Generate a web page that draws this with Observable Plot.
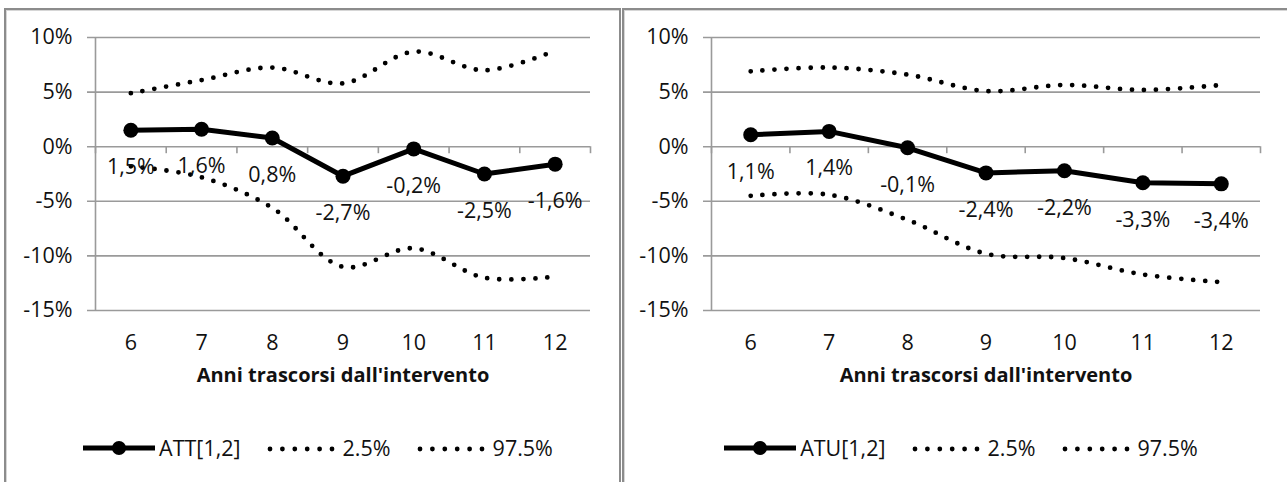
<!DOCTYPE html>
<html>
<head>
<meta charset="utf-8">
<script src="https://cdn.jsdelivr.net/npm/d3@7"></script>
<script src="https://cdn.jsdelivr.net/npm/@observablehq/plot@0.6"></script>
<style>
  body { margin: 0; background: #fff; font-family: "Open Sans", sans-serif; color: #111; }
  #page { position: relative; width: 1287px; height: 482px; overflow: hidden; }
  .chart { position: absolute; top: 0; }
  .frame { position: absolute; top: 8px; height: 500px; box-sizing: border-box;
           border: 2px solid #8c8c8c; box-shadow: inset 1px 1px 0 #d6d6d6; background: transparent; }
  .legend { position: absolute; top: 433px; display: flex; justify-content: center; align-items: center;
            font-size: 21.5px; white-space: nowrap; }
  .legend .item { display: flex; align-items: center; margin: 0 13px; }
  .legend svg { display: block; margin-right: 4px; }
  .legend svg.band { margin-right: 8px; }
</style>
</head>
<body>
<div id="page"></div>
<script>
// Years since the intervention
const years = [6, 7, 8, 9, 10, 11, 12];
const yTicks = [-15, -10, -5, 0, 5, 10];
const axisTitle = "Anni trascorsi dall'intervento";
const bandNames = ["2.5%", "97.5%"];

// ATT[1,2]: estimate with 2.5% and 97.5% bounds (percent)
const attEstimate = [1.5, 1.6, 0.8, -2.7, -0.2, -2.5, -1.6];
const attLow = [-1.8, -2.8, -5.6, -11.0, -9.3, -12.0, -11.9];
const attHigh = [4.9, 6.1, 7.25, 5.8, 8.7, 7.0, 8.8];

// ATU[1,2]: estimate with 2.5% and 97.5% bounds (percent)
const atuEstimate = [1.1, 1.4, -0.1, -2.4, -2.2, -3.3, -3.4];
const atuLow = [-4.5, -4.4, -6.7, -9.8, -10.2, -11.7, -12.4];
const atuHigh = [6.9, 7.25, 6.6, 5.1, 5.65, 5.2, 5.65];

const pct = v => v.toFixed(1).replace(".", ",") + "%";
const grid = "#9a9a9a";
const fs = 21.5;
const dotted = {stroke: "black", strokeWidth: 4.8, strokeDasharray: "0 12", strokeLinecap: "round", curve: "catmull-rom"};

function chart({estimate, low, high, width, marginLeft, marginRight}) {
  const rows = v => years.map((x, i) => ({x, y: v[i]}));
  const est = rows(estimate);
  const edges = [...years.map(d => d - 0.5), years[years.length - 1] + 0.5];
  return Plot.plot({
    width, height: 400,
    marginLeft, marginRight, marginTop: 37, marginBottom: 90,
    style: {background: "transparent", fontFamily: "'Open Sans', sans-serif", fontSize: fs + "px", color: "#111", overflow: "visible"},
    x: {type: "linear", domain: [edges[0], edges[edges.length - 1]]},
    y: {domain: [yTicks[0], yTicks[yTicks.length - 1]]},
    marks: [
      Plot.ruleY(yTicks, {stroke: grid, strokeWidth: 1.6, insetLeft: -8}),
      Plot.ruleX([edges[0]], {stroke: grid, strokeWidth: 1.6}),
      Plot.ruleX(edges, {y1: 0, y2: 0, insetBottom: -7, stroke: grid, strokeWidth: 1.6}),
      Plot.axisY({ticks: yTicks, tickSize: 0, tickPadding: 23, tickFormat: d => d + "%", fontSize: fs, label: null}),
      Plot.axisX({ticks: years, tickSize: 0, tickPadding: 24, tickFormat: d => String(d), fontSize: fs, label: null}),
      Plot.text([axisTitle], {frameAnchor: "bottom", dy: 71, fontWeight: "bold", fontSize: 20}),
      Plot.line(rows(low), {x: "x", y: "y", ...dotted}),
      Plot.line(rows(high), {x: "x", y: "y", ...dotted}),
      Plot.line(est, {x: "x", y: "y", stroke: "black", strokeWidth: 5, strokeLinejoin: "round"}),
      Plot.dot(est, {x: "x", y: "y", r: 7.5, fill: "black"}),
      Plot.text(est, {x: "x", y: "y", text: d => pct(d.y), dy: 37, fontSize: fs})
    ]
  });
}

function legend(name, left, width) {
  const ns = "http://www.w3.org/2000/svg";
  const div = document.createElement("div");
  div.className = "legend";
  div.style.left = left + "px";
  div.style.width = width + "px";
  const addItem = (draw, label) => {
    const item = document.createElement("div");
    item.className = "item";
    const svg = document.createElementNS(ns, "svg");
    draw(svg);
    const span = document.createElement("span");
    span.textContent = label;
    item.append(svg, span);
    div.append(item);
  };
  addItem(svg => {
    svg.setAttribute("width", 72); svg.setAttribute("height", 20);
    svg.innerHTML = `<line x1="0" x2="72" y1="10" y2="10" stroke="black" stroke-width="5"/>
                     <circle cx="36" cy="10" r="7" fill="black"/>`;
  }, name);
  for (const b of bandNames) {
    addItem(svg => {
      svg.setAttribute("class", "band");
      svg.setAttribute("width", 68); svg.setAttribute("height", 20);
      svg.innerHTML = `<line x1="3" x2="66" y1="11" y2="11" stroke="black" stroke-width="4.8"
                        stroke-dasharray="0 12.4" stroke-linecap="round"/>`;
    }, b);
  }
  return div;
}

const page = document.getElementById("page");

const left = chart({estimate: attEstimate, low: attLow, high: attHigh, width: 622, marginLeft: 95, marginRight: 32});
left.classList.add("chart");
left.style.left = "0px";

const right = chart({estimate: atuEstimate, low: atuLow, high: atuHigh, width: 665, marginLeft: 89, marginRight: 27});
right.classList.add("chart");
right.style.left = "622px";

page.append(left, right);
page.append(legend("ATT[1,2]", 0, 636), legend("ATU[1,2]", 622, 678));

const f1 = document.createElement("div");
f1.className = "frame"; f1.style.left = "4px"; f1.style.width = "617px";
const f2 = document.createElement("div");
f2.className = "frame"; f2.style.left = "622px"; f2.style.width = "700px";
page.append(f1, f2);
</script>
</body>
</html>
